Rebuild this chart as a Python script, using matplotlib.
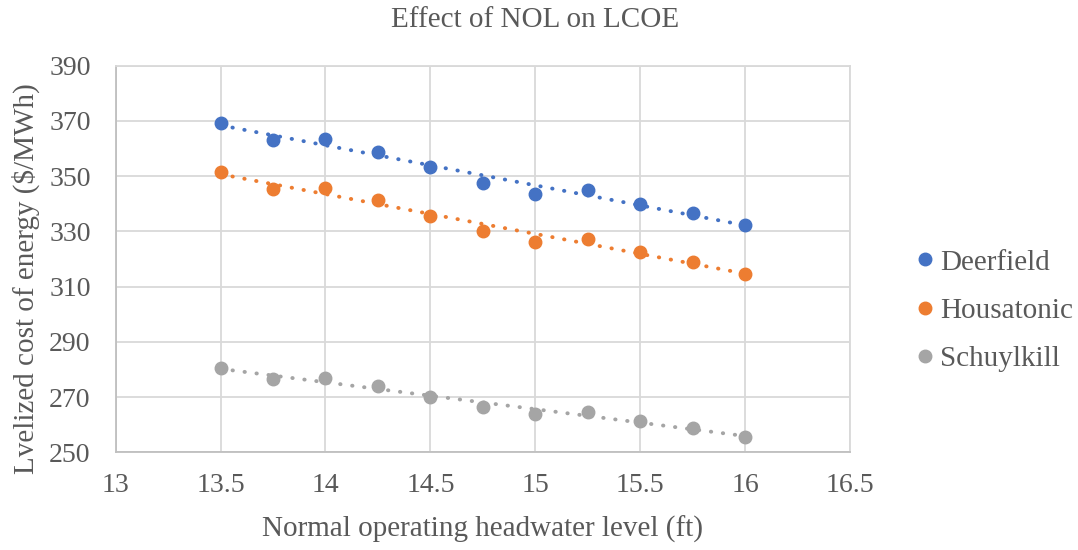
import numpy as np
import matplotlib
matplotlib.use("Agg")
import matplotlib.pyplot as plt

plt.rcParams['font.family'] = ['Liberation Serif', 'DejaVu Serif']

nol = [13.5, 13.75, 14.0, 14.25, 14.5, 14.75, 15.0, 15.25, 15.5, 15.75, 16.0]
deerfield = [369.2, 363.1, 363.5, 358.9, 353.4, 347.7, 343.7, 345.0, 340.0, 336.6, 332.3]
housatonic = [351.6, 345.2, 345.9, 341.3, 335.6, 330.2, 326.2, 327.3, 322.6, 319.1, 314.7]
schuylkill = [280.7, 276.5, 277.0, 273.9, 270.0, 266.4, 263.9, 264.5, 261.3, 258.8, 255.7]

names = ["Deerfield", "Housatonic", "Schuylkill"]
colors = ["#4472C4", "#ED7D31", "#A5A5A5"]
txt = "#595959"

fig = plt.figure(figsize=(10.78, 5.5), dpi=100)
ax = fig.add_axes([0.1073, 0.1776, 0.6812, 0.7029])

x = np.array(nol)
for name, vals, c in zip(names, [deerfield, housatonic, schuylkill], colors):
    # linear trendline
    k, b = np.polyfit(x, vals, 1)
    ax.plot(x, k * x + b, color=c, lw=2.8, linestyle=(0, (0.1, 3.0)),
            dash_capstyle="round", zorder=2)
    ax.plot(x, vals, "o", color=c, markersize=9, label=name, zorder=3)

ax.set_xlim(13, 16.5)
ax.set_ylim(250, 390)
ax.set_xticks(np.arange(13, 16.51, 0.5))
ax.set_xticklabels(["13", "13.5", "14", "14.5", "15", "15.5", "16", "16.5"])
ax.set_yticks(np.arange(250, 391, 20))
ax.grid(True, color="#D9D9D9", lw=1.3)
ax.set_axisbelow(True)
for s in ["top", "right"]:
    ax.spines[s].set_color("#D9D9D9")
    ax.spines[s].set_linewidth(1.3)
for s in ["left", "bottom"]:
    ax.spines[s].set_color("#BFBFBF")
    ax.spines[s].set_linewidth(1.3)
ax.tick_params(length=0, labelsize=20, colors=txt)
ax.tick_params(axis="y", pad=18)
ax.tick_params(axis="x", pad=15)

fig.text(0.4963, 0.964, "Effect of NOL on LCOE", fontsize=21, color=txt,
         ha="center", va="center")
ax.set_xlabel("Normal operating headwater level (ft)", fontsize=21, color=txt)
ax.xaxis.set_label_coords(0.5, -0.2)
ax.xaxis.label.set_va("center")
ax.set_ylabel("Lvelized cost of energy ($/MWh)", fontsize=21, color=txt)
ax.yaxis.set_label_coords(-0.123, 0.45)
ax.yaxis.label.set_va("center")

leg = fig.legend(loc="center left", bbox_to_anchor=(0.8515, 0.435), frameon=False,
                 fontsize=21, handletextpad=0.25, labelspacing=0.75,
                 handlelength=0.5, borderpad=0, borderaxespad=0)
for t in leg.get_texts():
    t.set_color(txt)

fig.savefig("out.png", dpi=100)
